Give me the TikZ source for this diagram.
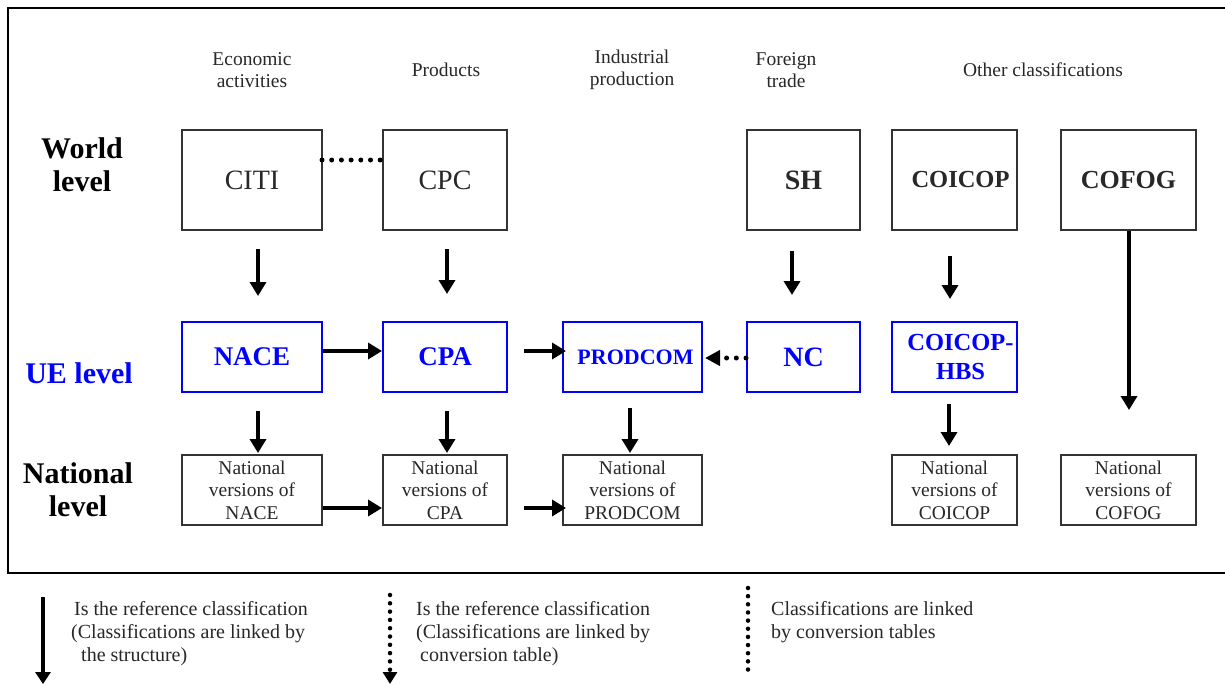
\documentclass[tikz,border=0pt]{standalone}
\usepackage{fontspec}
\setmainfont{Liberation Serif}
\usetikzlibrary{arrows.meta}
\definecolor{ueblue}{RGB}{0,0,255}
\definecolor{boxgray}{RGB}{51,51,51}
\definecolor{txtgray}{RGB}{40,40,40}
\begin{document}
\begin{tikzpicture}[x=1pt,y=-1pt,
  box/.style={draw=boxgray, line width=2pt, inner sep=0pt, align=center, text=txtgray},
  worldbox/.style={box, minimum height=100pt},
  uebox/.style={box, draw=ueblue, text=ueblue, minimum height=70pt, font=\bfseries\fontsize{27}{30}\selectfont},
  natbox/.style={box, minimum height=70pt, font=\fontsize{19.5}{22.5}\selectfont},
  head/.style={align=center, inner sep=0pt, text=txtgray, font=\fontsize{19.5}{22.5}\selectfont},
  rowlab/.style={align=center, inner sep=0pt, font=\bfseries\fontsize{30}{33}\selectfont},
  legtext/.style={anchor=north west, align=left, inner sep=0pt, text=txtgray, font=\fontsize{20}{23}\selectfont},
  bigarrow/.style={line width=4.5pt, -{Triangle[width=16pt,length=14pt]}},
  dotline/.style={line width=5pt, line cap=round, dash pattern=on 0pt off 9.7pt},
  legarrow/.style={line width=4pt, -{Triangle[width=15pt,length=12pt]}},
  legdots/.style={line width=4.5pt, line cap=round},
  frameline/.style={line width=2.5pt}
]
\useasboundingbox (0,0) rectangle (1225,685);
\fill[white] (0,0) rectangle (1225,685);

% frame
\draw[frameline] (1225,8) -- (8,8) -- (8,573) -- (1225,573);

% headings
\node[head] (hecon) at (252,70) {Economic\\activities};
\node[head] (hprod) at (446,70) {Products};
\node[head] (hind) at (632,70) {Industrial\\production};
\node[head] (hfor) at (786,70) {Foreign\\trade};
\node[head] (hoth) at (1043,70) {Other classifications};

% row labels
\node[rowlab] (world) at (82,165) {World\\level};
\node[rowlab, text=ueblue] (ue) at (79,373) {UE level};
\node[rowlab] (natl) at (78,490) {National\\level};

% world level
\node[worldbox, minimum width=140pt, font=\fontsize{28}{30}\selectfont] (citi) at (252,180) {CITI};
\node[worldbox, minimum width=124pt, font=\fontsize{28}{30}\selectfont] (cpc) at (445,180) {CPC};
\node[worldbox, minimum width=113pt, font=\bfseries\fontsize{28}{30}\selectfont] (sh) at (803.5,180) {SH};
\node[worldbox, minimum width=125pt, font=\bfseries\fontsize{24.5}{28}\selectfont] (coicop) at (954.5,180) {\hspace*{12pt}COICOP};
\node[worldbox, minimum width=135pt, font=\bfseries\fontsize{26}{28}\selectfont] (cofog) at (1128.5,180) {COFOG};

% UE level
\node[uebox, minimum width=140pt] (nace) at (252,357) {NACE};
\node[uebox, minimum width=124pt] (cpa) at (445,357) {CPA};
\node[uebox, minimum width=139pt, font=\bfseries\fontsize{22}{24}\selectfont] (prodcom) at (632.5,357) {\hspace*{6pt}PRODCOM};
\node[uebox, minimum width=113pt, font=\bfseries\fontsize{28}{30}\selectfont] (nc) at (803.5,357) {NC};
\node[uebox, minimum width=125pt, font=\bfseries\fontsize{24.5}{29}\selectfont] (hbs) at (954.5,357) {\hspace*{12pt}COICOP-\\\hspace*{12pt}HBS};

% national level
\node[natbox, minimum width=140pt] (nnace) at (252,490) {National\\versions of\\NACE};
\node[natbox, minimum width=124pt] (ncpa) at (445,490) {National\\versions of\\CPA};
\node[natbox, minimum width=139pt] (nprodcom) at (632.5,490) {National\\versions of\\PRODCOM};
\node[natbox, minimum width=125pt] (ncoicop) at (954.5,490) {National\\versions of\\COICOP};
\node[natbox, minimum width=135pt] (ncofog) at (1128.5,490) {National\\versions of\\COFOG};

% connectors
\draw[dotline] ([xshift=-1pt,yshift=20pt]citi.east) -- ([xshift=1pt,yshift=20pt]cpc.west);

\draw[bigarrow] ([xshift=6pt,yshift=-18pt]citi.south) -- ([xshift=6pt,yshift=25pt]nace.north);
\draw[bigarrow] ([xshift=2pt,yshift=-18pt]cpc.south) -- ([xshift=2pt,yshift=27pt]cpa.north);
\draw[bigarrow] ([xshift=-11.5pt,yshift=-20pt]sh.south) -- ([xshift=-11.5pt,yshift=26pt]nc.north);
\draw[bigarrow] ([xshift=-4.5pt,yshift=-25pt]coicop.south) -- ([xshift=-4.5pt,yshift=22pt]hbs.north);
\coordinate (cofogend) at (1129,410);
\draw[bigarrow] ([xshift=0.5pt]cofog.south) -- (cofogend);

\draw[bigarrow] ([xshift=6pt,yshift=-18pt]nace.south) -- ([xshift=6pt,yshift=1pt]nnace.north);
\draw[bigarrow] ([xshift=2pt,yshift=-18pt]cpa.south) -- ([xshift=2pt,yshift=1pt]ncpa.north);
\draw[bigarrow] ([xshift=-2.5pt,yshift=-15pt]prodcom.south) -- ([xshift=-2.5pt,yshift=1pt]nprodcom.north);
\draw[bigarrow] ([xshift=-5.5pt,yshift=-11pt]hbs.south) -- ([xshift=-5.5pt,yshift=8pt]ncoicop.north);

\draw[bigarrow] ([yshift=6pt]nace.east) -- ([yshift=6pt]cpa.west);
\draw[bigarrow] ([xshift=16pt,yshift=6pt]cpa.east) -- ([xshift=4pt,yshift=6pt]prodcom.west);
\draw[dotline, -{Triangle[width=15pt,length=15pt]}] ([yshift=-1pt]nc.west) -- ([xshift=2pt,yshift=-1pt]prodcom.east);

\draw[bigarrow] ([yshift=-18pt]nnace.east) -- ([yshift=-18pt]ncpa.west);
\draw[bigarrow] ([xshift=16pt,yshift=-18pt]ncpa.east) -- ([xshift=4pt,yshift=-18pt]nprodcom.west);

% legend
\coordinate (l1a) at (43,597);
\coordinate (l1b) at (43,684);
\draw[legarrow] (l1a) -- (l1b);
\node[legtext] (t1) at (71,601) {\hspace*{3pt}Is the reference classification\\(Classifications are linked by\\\hspace*{10pt}the structure)};

\coordinate (l2a) at (390,595);
\coordinate (l2b) at (390,684);
\draw[legdots, dash pattern=on 0pt off 8.3pt, -{Triangle[width=14pt,length=12pt]}] (l2a) -- (l2b);
\node[legtext] (t2) at (416,601) {Is the reference classification\\(Classifications are linked by\\\hspace*{4pt}conversion table)};

\coordinate (l3a) at (748,588);
\coordinate (l3b) at (748,670);
\draw[legdots, dash pattern=on 0pt off 8.15pt] (l3a) -- (l3b);
\node[legtext] (t3) at (771,601) {Classifications are linked\\by conversion tables};
\end{tikzpicture}
\end{document}
